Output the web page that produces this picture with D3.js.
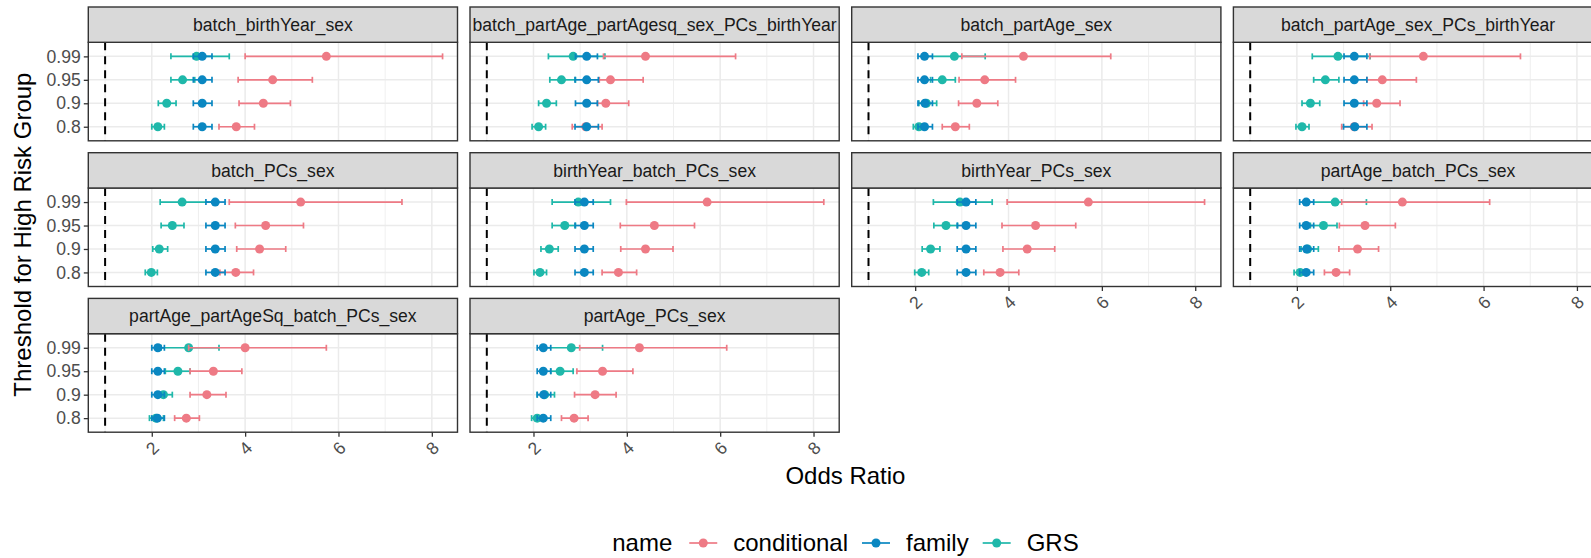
<!DOCTYPE html>
<html>
	<head>
		<meta charset="utf-8">
		<script src="https://cdnjs.cloudflare.com/ajax/libs/d3/7.8.5/d3.min.js" charset="utf-8"></script>
		<style>
			body {
				margin: 0;
				background: #fff;
				font-family: 'Liberation Sans', Arial, sans-serif;
			}
			svg { display: block; }
		</style>
	</head>
	<body>

		<div id="chart"></div>

		<script>

			//////////////////////////////// Data //////////////////////////////
			var facets = [
				"batch_birthYear_sex",
				"batch_partAge_partAgesq_sex_PCs_birthYear",
				"batch_partAge_sex",
				"batch_partAge_sex_PCs_birthYear",
				"batch_PCs_sex",
				"birthYear_batch_PCs_sex",
				"birthYear_PCs_sex",
				"partAge_batch_PCs_sex",
				"partAge_partAgeSq_batch_PCs_sex",
				"partAge_PCs_sex"
			];
			var thresholds = ["0.99", "0.95", "0.9", "0.8"];
			var seriesNames = ["conditional", "family", "GRS"];
			var xTicks = [2, 4, 6, 8];
			var xMinor = [1, 3, 5, 7];

			// one row per facet, values in threshold order 0.99, 0.95, 0.9, 0.8
			var condEst = [[5.74,4.59,4.39,3.81],[4.40,3.65,3.55,3.12],[4.32,3.49,3.32,2.86],[4.71,3.83,3.71,3.23],[5.19,4.44,4.31,3.80],
				[5.72,4.59,4.40,3.82],[5.71,4.58,4.40,3.82],[4.26,3.46,3.30,2.84],[4.00,3.32,3.18,2.74],[4.27,3.48,3.32,2.87]];
			var condLo = [[4.00,3.85,3.87,3.44],[3.50,3.41,3.37,2.83],[3.00,2.94,2.93,2.58],[3.56,3.50,3.43,2.96],[3.66,3.79,3.82,3.46],
				[3.99,3.86,3.87,3.47],[3.97,3.86,3.88,3.47],[2.96,2.91,2.90,2.59],[2.79,2.82,2.82,2.49],[2.99,2.93,2.88,2.60]];
			var condHi = [[8.23,5.44,4.97,4.20],[6.33,4.35,4.04,3.47],[6.19,4.15,3.77,3.16],[6.79,4.56,4.21,3.61],[7.36,5.25,4.87,4.18],
				[8.22,5.45,4.99,4.21],[8.20,5.44,4.99,4.22],[6.13,4.11,3.75,3.13],[5.74,3.93,3.59,3.02],[6.14,4.13,3.77,3.17]];

			var famEst = [[3.08,3.08,3.08,3.08],[3.14,3.14,3.14,3.14],[2.20,2.20,2.21,2.20],[3.23,3.23,3.23,3.24],[3.36,3.36,3.36,3.36],
				[3.09,3.09,3.09,3.09],[3.09,3.09,3.09,3.09],[2.20,2.20,2.21,2.20],[2.13,2.13,2.13,2.12],[2.21,2.21,2.22,2.21]];
			var famLo = [[2.89,2.89,2.89,2.89],[2.90,2.89,2.90,2.89],[2.06,2.06,2.06,2.06],[3.01,3.01,3.01,3.00],[3.16,3.16,3.16,3.16],
				[2.89,2.89,2.89,2.89],[2.90,2.90,2.90,2.90],[2.06,2.06,2.06,2.06],[2.00,2.00,2.00,2.00],[2.08,2.08,2.08,2.08]];
			var famHi = [[3.29,3.29,3.29,3.29],[3.37,3.39,3.37,3.39],[2.37,2.37,2.37,2.37],[3.50,3.50,3.50,3.50],[3.57,3.57,3.57,3.57],
				[3.28,3.28,3.28,3.28],[3.30,3.30,3.30,3.30],[2.36,2.36,2.36,2.36],[2.27,2.27,2.27,2.27],[2.37,2.37,2.37,2.37]];

			var grsEst = [[2.96,2.66,2.32,2.13],[2.85,2.60,2.28,2.11],[2.84,2.58,2.24,2.08],[2.88,2.61,2.29,2.11],[2.65,2.44,2.16,1.99],
				[2.96,2.67,2.34,2.14],[2.96,2.66,2.33,2.14],[2.82,2.57,2.23,2.07],[2.79,2.56,2.25,2.09],[2.81,2.57,2.24,2.08]];
			var grsLo = [[2.41,2.41,2.14,2.00],[2.32,2.35,2.11,1.97],[2.25,2.33,2.08,1.96],[2.33,2.36,2.11,1.98],[2.18,2.20,2.02,1.86],
				[2.40,2.40,2.16,2.01],[2.39,2.40,2.15,1.99],[2.25,2.29,2.09,1.94],[2.20,2.29,2.11,1.95],[2.25,2.37,2.08,1.96]];
			var grsHi = [[3.66,2.92,2.52,2.27],[3.53,2.90,2.49,2.26],[3.50,2.86,2.46,2.24],[3.57,2.90,2.49,2.26],[3.32,2.69,2.34,2.12],
				[3.65,2.90,2.53,2.28],[3.65,2.91,2.53,2.29],[3.49,2.86,2.46,2.21],[3.44,2.82,2.44,2.25],[3.48,2.85,2.45,2.22]];

			var colors = {conditional: "#ee7a85", family: "#0a87c1", GRS: "#1fb8aa"};

			// build long table
			var rows = [];
			facets.forEach(function(f, fi) {
				thresholds.forEach(function(t, ti) {
					rows.push({facet: fi, thr: t, name: "GRS", est: grsEst[fi][ti], lo: grsLo[fi][ti], hi: grsHi[fi][ti]});
					rows.push({facet: fi, thr: t, name: "conditional", est: condEst[fi][ti], lo: condLo[fi][ti], hi: condHi[fi][ti]});
					rows.push({facet: fi, thr: t, name: "family", est: famEst[fi][ti], lo: famLo[fi][ti], hi: famHi[fi][ti]});
				});
			});

			//////////////////////////////// Layout //////////////////////////////
			var chartW = 1591, chartH = 558;
			var marginL = 88.3, marginT = 7;
			var panelW = 369.2, panelH = 98.5, stripH = 35.3;
			var colPitch = 381.7, rowPitch = 145.7;
			var nCol = 4;

			var svg = d3.select("#chart").append("svg")
				.attr("width", chartW)
				.attr("height", chartH);

			var x = d3.scaleLinear().domain([0.64, 8.55]).range([0, panelW]);
			var y = d3.scalePoint().domain(thresholds).range([0, panelH]).padding(0.6);

			var defs = svg.append("defs");

			facets.forEach(function(f, fi) {
				var col = fi % nCol, row = Math.floor(fi / nCol);
				var px = marginL + col * colPitch;
				var py = marginT + row * rowPitch + stripH;

				var g = svg.append("g").attr("transform", "translate(" + px + "," + py + ")");

				// panel background
				g.append("rect").attr("width", panelW).attr("height", panelH).attr("fill", "#fff");

				// grid
				g.selectAll(".minor").data(xMinor).enter().append("line")
					.attr("x1", function(d) { return x(d); }).attr("x2", function(d) { return x(d); })
					.attr("y1", 0).attr("y2", panelH)
					.attr("stroke", "#ebebeb").attr("stroke-width", 0.8);
				g.selectAll(".major").data(xTicks).enter().append("line")
					.attr("x1", function(d) { return x(d); }).attr("x2", function(d) { return x(d); })
					.attr("y1", 0).attr("y2", panelH)
					.attr("stroke", "#ebebeb").attr("stroke-width", 1.5);
				g.selectAll(".hgrid").data(thresholds).enter().append("line")
					.attr("x1", 0).attr("x2", panelW)
					.attr("y1", function(d) { return y(d); }).attr("y2", function(d) { return y(d); })
					.attr("stroke", "#ebebeb").attr("stroke-width", 1.5);

				// reference line at OR = 1
				g.append("line")
					.attr("x1", x(1)).attr("x2", x(1))
					.attr("y1", 0).attr("y2", panelH)
					.attr("stroke", "#000").attr("stroke-width", 2)
					.attr("stroke-dasharray", "8,6");

				// error bars + points
				var data = rows.filter(function(d) { return d.facet === fi; });
				var mark = g.selectAll(".mark").data(data).enter().append("g").attr("class", "mark");
				mark.append("line")
					.attr("x1", function(d) { return x(d.lo); }).attr("x2", function(d) { return x(d.hi); })
					.attr("y1", function(d) { return y(d.thr); }).attr("y2", function(d) { return y(d.thr); })
					.attr("stroke", function(d) { return colors[d.name]; }).attr("stroke-width", 1.7);
				["lo", "hi"].forEach(function(k) {
					mark.append("line")
						.attr("x1", function(d) { return x(d[k]); }).attr("x2", function(d) { return x(d[k]); })
						.attr("y1", function(d) { return y(d.thr) - 3; }).attr("y2", function(d) { return y(d.thr) + 3; })
						.attr("stroke", function(d) { return colors[d.name]; }).attr("stroke-width", 1.7);
				});
				mark.append("circle")
					.attr("cx", function(d) { return x(d.est); })
					.attr("cy", function(d) { return y(d.thr); })
					.attr("r", 4.5)
					.attr("fill", function(d) { return colors[d.name]; });

				// panel border
				g.append("rect").attr("width", panelW).attr("height", panelH)
					.attr("fill", "none").attr("stroke", "#333").attr("stroke-width", 1.4);

				// strip
				var clipId = "clip" + fi;
				defs.append("clipPath").attr("id", clipId).append("rect")
					.attr("x", 0).attr("y", -stripH).attr("width", panelW).attr("height", stripH);
				g.append("rect").attr("y", -stripH).attr("width", panelW).attr("height", stripH)
					.attr("fill", "#d9d9d9").attr("stroke", "#333").attr("stroke-width", 1.4);
				g.append("text")
					.attr("clip-path", "url(#" + clipId + ")")
					.attr("x", panelW / 2).attr("y", -stripH / 2)
					.attr("dy", "0.35em")
					.attr("text-anchor", "middle")
					.style("font-size", "17.6px")
					.attr("fill", "#1a1a1a")
					.text(f);

				// y axis on first column
				if (col === 0) {
					var ya = g.append("g").call(d3.axisLeft(y).tickSize(4.5).tickPadding(3));
					ya.select(".domain").remove();
					ya.selectAll(".tick line").attr("stroke", "#333").attr("stroke-width", 1.3);
					ya.selectAll(".tick text").attr("fill", "#4d4d4d").style("font-size", "17.6px")
						.style("font-family", "'Liberation Sans', Arial, sans-serif");
				}

				// x axis where nothing sits below
				if (fi + nCol >= facets.length) {
					var xa = g.append("g").attr("transform", "translate(0," + panelH + ")")
						.call(d3.axisBottom(x).tickValues(xTicks).tickSize(4.5).tickFormat(d3.format("d")));
					xa.select(".domain").remove();
					xa.selectAll(".tick line").attr("stroke", "#333").attr("stroke-width", 1.3);
					xa.selectAll(".tick text")
						.attr("fill", "#4d4d4d").style("font-size", "17.6px")
						.style("font-family", "'Liberation Sans', Arial, sans-serif")
						.attr("y", 0).attr("dy", "0.35em")
						.attr("text-anchor", "middle")
						.attr("transform", "translate(0,16) rotate(-45)");
				}
			});

			// axis titles
			var plotCenter = marginL + (3 * colPitch + panelW) / 2;
			svg.append("text")
				.attr("x", plotCenter).attr("y", 484)
				.attr("text-anchor", "middle")
				.style("font-size", "24px")
				.text("Odds Ratio");
			svg.append("text")
				.attr("transform", "translate(31," + (marginT + (2 * rowPitch + stripH + panelH) / 2 + 15) + ") rotate(-90)")
				.attr("text-anchor", "middle")
				.style("font-size", "24px")
				.text("Threshold for High Risk Group");

			//////////////////////////////// Legend //////////////////////////////
			var legend = svg.append("g");
			var lx = 0;
			var title = legend.append("text").attr("x", 0).attr("y", 0).attr("dy", "0.35em")
				.style("font-size", "24px").text("name");
			lx = title.node().getComputedTextLength() + 17;
			seriesNames.forEach(function(s) {
				legend.append("line").attr("x1", lx).attr("x2", lx + 28).attr("y1", 0).attr("y2", 0)
					.attr("stroke", colors[s]).attr("stroke-width", 1.7);
				legend.append("circle").attr("cx", lx + 14).attr("cy", 0).attr("r", 4.5).attr("fill", colors[s]);
				var t = legend.append("text").attr("x", lx + 44).attr("y", 0).attr("dy", "0.35em")
					.style("font-size", "24px").text(s);
				lx += 44 + t.node().getComputedTextLength() + 14;
			});
			lx -= 14;
			legend.attr("transform", "translate(" + (plotCenter - lx / 2) + ",543)");

		</script>

	</body>
</html>
